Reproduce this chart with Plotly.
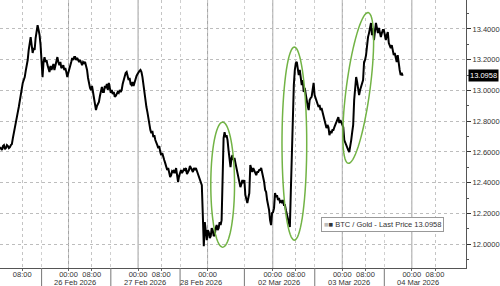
import numpy as np
import plotly.graph_objects as go

# ---- data -------------------------------------------------------------
# BTC / Gold ratio, sampled every ~20.5 minutes of (weekend-compressed) display time
SAMPLE_STEP_H = 0.3415   # hours between samples
ratio = [
12.631,12.618,12.612,12.638,12.644,12.618,12.625,12.644,12.638,12.625,
12.631,12.644,12.651,12.690,12.729,12.761,12.794,12.826,12.859,12.892,
12.938,12.970,13.003,13.049,13.068,13.087,13.127,13.159,13.198,13.263,
13.328,13.347,13.295,13.244,13.276,13.263,13.341,13.406,13.425,13.393,
13.360,13.295,13.198,13.087,13.185,13.217,13.185,13.198,13.165,13.133,
13.120,13.159,13.133,13.152,13.172,13.133,13.159,13.185,13.217,13.185,
13.165,13.185,13.146,13.152,13.165,13.133,13.146,13.120,13.087,13.114,
13.133,13.159,13.185,13.211,13.198,13.217,13.217,13.198,13.211,13.198,
13.185,13.198,13.172,13.165,13.185,13.178,13.185,13.165,13.133,13.081,
13.035,13.016,13.003,13.029,12.990,12.958,12.925,12.872,12.899,12.912,
12.925,12.964,13.003,13.023,12.990,12.990,13.029,13.016,13.042,13.003,
13.049,13.016,12.984,13.003,12.977,12.990,12.958,12.964,12.977,12.990,
12.984,13.003,12.990,13.003,13.042,13.068,13.094,13.114,13.120,13.094,
13.068,13.081,13.042,13.035,13.055,13.029,13.055,13.068,13.094,13.107,
13.120,13.127,13.133,13.120,13.087,13.029,12.970,12.938,12.892,12.859,
12.807,12.781,12.742,12.722,12.736,12.696,12.709,12.677,12.664,12.644,
12.625,12.638,12.599,12.579,12.592,12.560,12.547,12.527,12.508,12.482,
12.495,12.462,12.436,12.449,12.475,12.469,12.482,12.462,12.495,12.449,
12.404,12.443,12.469,12.482,12.462,12.475,12.488,12.482,12.495,12.456,
12.469,12.482,12.508,12.495,12.482,12.469,12.495,12.482,12.495,12.475,
12.462,12.449,12.430,12.410,12.384,12.189,11.987,12.143,12.058,12.026,
12.091,12.078,12.039,12.052,12.104,12.091,12.052,12.058,12.104,12.124,
12.091,12.104,12.143,12.124,12.156,12.547,12.690,12.729,12.696,12.709,
12.677,12.612,12.547,12.501,12.560,12.579,12.547,12.560,12.527,12.495,
12.482,12.449,12.417,12.371,12.391,12.417,12.397,12.417,12.319,12.287,
12.267,12.300,12.332,12.514,12.495,12.469,12.495,12.482,12.469,12.449,
12.469,12.469,12.482,12.482,12.495,12.469,12.449,12.404,12.352,12.339,
12.287,12.254,12.221,12.156,12.124,12.202,12.208,12.234,12.332,12.306,
12.319,12.287,12.300,12.274,12.280,12.267,12.287,12.254,12.254,12.221,
12.189,12.156,12.124,12.111,12.352,12.612,12.872,13.035,13.133,13.178,
13.185,13.133,13.100,13.133,13.068,13.035,13.068,12.990,13.016,12.970,
12.938,12.899,12.872,12.938,12.951,12.958,13.003,13.049,12.970,12.951,
12.938,12.918,12.892,12.905,12.872,12.885,12.853,12.826,12.807,12.781,
12.755,12.775,12.761,12.709,12.736,12.722,12.742,12.742,12.761,12.775,
12.788,12.807,12.826,12.788,12.807,12.794,12.775,12.761,12.677,12.657,
12.644,12.625,12.612,12.599,12.631,12.677,12.729,12.775,12.938,13.003,
13.087,13.055,13.023,12.970,13.003,13.023,13.042,13.068,13.185,13.198,
13.230,13.295,13.347,13.373,13.406,13.439,13.360,13.406,13.328,13.393,
13.439,13.406,13.373,13.406,13.380,13.347,13.373,13.393,13.393,13.354,
13.328,13.360,13.380,13.308,13.289,13.276,13.295,13.263,13.230,13.244,
13.211,13.185,13.230,13.165,13.133,13.100,13.114,13.0958,
]
last_price = 13.0958

# x-axis ticks (display hours since 25 Feb 2026 00:00, weekend compressed)
tick_pos = [8, 24, 32, 48, 56, 72, 94.5, 102.5, 118.5, 126.5, 142.5, 150.5]
tick_txt = ["08:00", "00:00", "08:00", "00:00", "08:00", "00:00",
            "00:00", "08:00", "00:00", "08:00", "00:00", "08:00"]
midnight_pos = [24, 48, 72, 94.5, 118.5, 142.5]
separator_pos = [14.7, 38.6, 62.5, 84.7, 109.0, 133.0]
date_labels = ["26 Feb 2026", "27 Feb 2026", "28 Feb 2026",
               "02 Mar 2026", "03 Mar 2026", "04 Mar 2026"]
date_label_pos = [26.3, 50.3, 69.7, 96.8, 120.8, 144.8]
y_ticks = [12.0, 12.2, 12.4, 12.6, 12.8, 13.0, 13.2, 13.4]

# highlight ellipses: centre (hours, ratio), semi-axes in px, tilt in degrees
ellipses = [
    (77.2, 12.387, 12, 62.5, 0.0),
    (101.95, 12.654, 12.5, 96.5, 0.0),
    (124.0, 13.016, 12, 76, 7.6),
]

# ---- figure -----------------------------------------------------------
W, H = 500, 286
ML, MR, MT, MB = 0, 29, 0, 18
X_RANGE = [0.34, 161.2]
Y_RANGE = [11.8445, 13.5885]
plot_h = H - MT - MB
px_per_h = (W - ML - MR) / (X_RANGE[1] - X_RANGE[0])
px_per_v = plot_h / (Y_RANGE[1] - Y_RANGE[0])

t = (np.arange(len(ratio)) + 1) * SAMPLE_STEP_H

fig = go.Figure()
fig.add_trace(go.Scatter(x=t, y=ratio, mode="lines",
                         line=dict(color="black", width=2),
                         name="BTC / Gold", showlegend=False))

FONT = "Liberation Sans, Arial, sans-serif"
TXT = "#333333"

shapes = []
for m in midnight_pos:
    shapes.append(dict(type="line", xref="x", yref="paper", x0=m, x1=m, y0=0, y1=1,
                       line=dict(color="#a0a0a0", width=1), layer="below"))
# day-group separators below the time axis
for s in separator_pos:
    shapes.append(dict(type="line", xref="x", yref="paper", x0=s, x1=s,
                       y0=-MB / plot_h, y1=0,
                       line=dict(color="#777777", width=1)))

for (tc, vc, b, a, ang) in ellipses:
    phi = np.radians(ang)
    th = np.linspace(0, 2 * np.pi, 73)
    dx = b * np.cos(th)
    dy = a * np.sin(th)
    xs = dx * np.cos(phi) - dy * np.sin(phi)
    ys = dx * np.sin(phi) + dy * np.cos(phi)
    tx = tc + xs / px_per_h
    vy = vc - ys / px_per_v
    path = "M " + " L ".join(f"{p:.4f},{q:.5f}" for p, q in zip(tx, vy)) + " Z"
    shapes.append(dict(type="path", xref="x", yref="y", path=path,
                       line=dict(color="#72b345", width=1.5)))

annotations = []
for lbl, pos in zip(date_labels, date_label_pos):
    annotations.append(dict(x=pos, y=0, xref="x", yref="paper", text=lbl,
                            showarrow=False, yanchor="middle", yshift=-14,
                            font=dict(family=FONT, size=7.5, color=TXT)))

# last price tag on the right axis
annotations.append(dict(x=1, y=last_price, xref="paper", yref="y",
                        text=f"{last_price:.4f}", showarrow=False,
                        xanchor="left", xshift=2, bgcolor="black",
                        font=dict(family=FONT, size=7.5, color="white"),
                        borderpad=1))
# legend box
annotations.append(dict(x=0.8206, y=0.1623, xref="paper", yref="paper",
                        text="<span style='color:#bbbbbb'>■</span>■ BTC / Gold - Last Price "
                             f"{last_price:.4f}",
                        showarrow=False, xanchor="center", yanchor="middle",
                        bgcolor="white", bordercolor="#999999", borderwidth=1,
                        borderpad=2,
                        font=dict(family=FONT, size=7.5, color=TXT)))

fig.update_layout(
    width=W, height=H,
    margin=dict(l=ML, r=MR, t=MT, b=MB),
    paper_bgcolor="white", plot_bgcolor="white",
    showlegend=False,
    shapes=shapes, annotations=annotations,
    xaxis=dict(range=X_RANGE, tickmode="array", tickvals=tick_pos, ticktext=tick_txt,
               showgrid=True, gridcolor="#c4c4c4", griddash="dot", gridwidth=1,
               ticks="outside", ticklen=2, tickcolor="#666",
               ticklabelstandoff=-3,
               showline=True, linecolor="#555", linewidth=1,
               zeroline=False,
               tickfont=dict(family=FONT, size=7.5, color=TXT),
               minor=dict(tickmode="array", tickvals=separator_pos, ticks="",
                          showgrid=True, gridcolor="#cfcfcf", griddash="dot")),
    yaxis=dict(range=Y_RANGE, side="right", tickmode="array", tickvals=y_ticks,
               tickformat=".4f", showgrid=True, gridcolor="#bdbdbd", griddash="dot",
               ticks="outside", ticklen=4, tickcolor="#333",
               showline=True, linecolor="#555", linewidth=1, zeroline=False,
               tickfont=dict(family=FONT, size=7.5, color=TXT),
               minor=dict(dtick=0.1, tick0=0, ticks="outside", ticklen=2,
                          tickcolor="#555", showgrid=False)),
)

fig.write_html("out.html")
